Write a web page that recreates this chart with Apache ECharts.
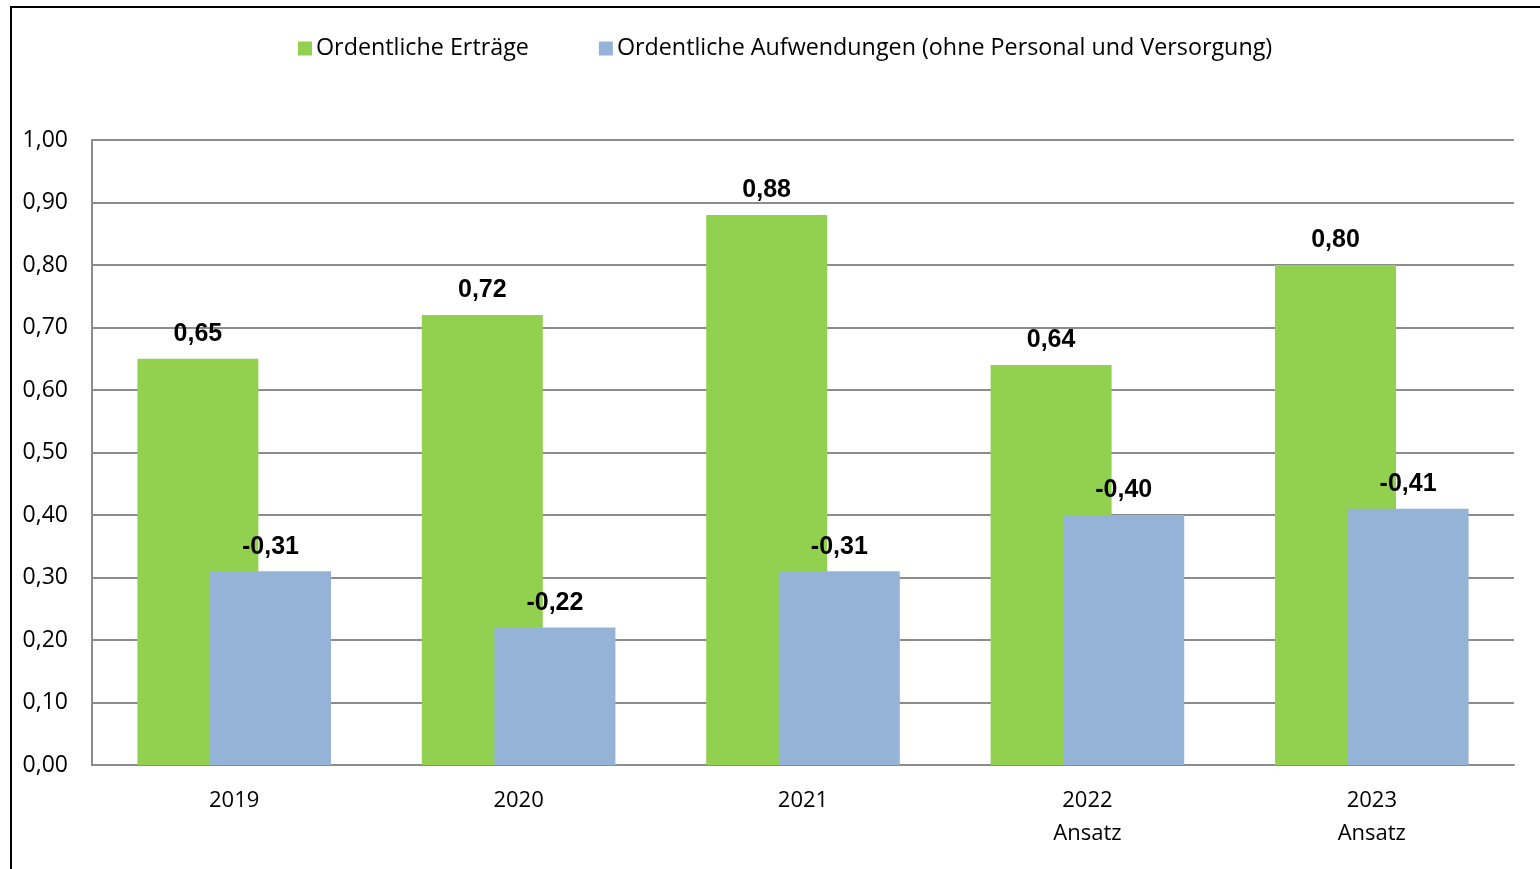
<!DOCTYPE html>
<html>
<head>
<meta charset="utf-8">
<script src="https://cdn.jsdelivr.net/npm/echarts@6/dist/echarts.min.js"></script>
<style>
    html, body { margin: 0; padding: 0; background: #fff; }
    #chart { width: 1540px; height: 869px; }
</style>
</head>
<body>
<div id="chart"></div>
<script>
const categories = ["2019", "2020", "2021", "2022\nAnsatz", "2023\nAnsatz"];
const ertraege = [0.65, 0.72, 0.88, 0.64, 0.80];
// Aufwendungen sind negativ, werden aber als Betrag gezeichnet
const aufwendungen = [-0.31, -0.22, -0.31, -0.40, -0.41];
const yTicks = { min: 0, max: 1, interval: 0.1 };

const fmt = v => v.toFixed(2).replace(".", ",");
const txtFont = "'Open Sans', 'Noto Sans', sans-serif";

const chart = echarts.init(document.getElementById("chart"));

const labelStyle = {
    show: true,
    position: "top",
    distance: 12,
    color: "#000",
    fontFamily: "'Liberation Sans', Arial, sans-serif",
    fontWeight: "bold",
    fontSize: 25
};

chart.setOption({
    animation: false,
    backgroundColor: "#fff",
    graphic: [
        {
            // äußerer Rahmen
            type: "rect",
            shape: { x: 11, y: 7, width: 1560, height: 900 },
            style: { fill: "none", stroke: "#000", lineWidth: 2 },
            silent: true
        }
    ],
    legend: {
        top: 32,
        left: 293,
        itemWidth: 14,
        itemHeight: 14,
        itemGap: 70,
        icon: "rect",
        textStyle: { fontFamily: txtFont, fontSize: 23.3, color: "#000", padding: [0, 0, 0, -1] },
        data: ["Ordentliche Erträge", "Ordentliche Aufwendungen (ohne Personal und Versorgung)"]
    },
    grid: {
        left: 92,
        right: 26,
        top: 140,
        bottom: 104
    },
    xAxis: {
        type: "category",
        data: categories,
        axisLine: { lineStyle: { color: "#8c8c8c", width: 2 } },
        axisTick: { show: false },
        axisLabel: {
            color: "#000",
            fontFamily: txtFont,
            fontSize: 22,
            lineHeight: 33,
            margin: 19
        }
    },
    yAxis: {
        type: "value",
        min: yTicks.min,
        max: yTicks.max,
        interval: yTicks.interval,
        axisLine: { show: true, lineStyle: { color: "#8c8c8c", width: 2 } },
        axisTick: { show: false },
        splitLine: { lineStyle: { color: "#8c8c8c", width: 2 } },
        axisLabel: {
            color: "#000",
            fontFamily: txtFont,
            fontSize: 23,
            margin: 24,
            formatter: v => fmt(v)
        }
    },
    series: [
        {
            name: "Ordentliche Erträge",
            type: "bar",
            data: ertraege,
            barWidth: 121,
            barGap: "-40%",
            itemStyle: { color: "#92D050" },
            label: { ...labelStyle, formatter: p => fmt(p.value) }
        },
        {
            name: "Ordentliche Aufwendungen (ohne Personal und Versorgung)",
            type: "bar",
            data: aufwendungen.map(v => Math.abs(v)),
            barWidth: 121,
            barGap: "-40%",
            itemStyle: { color: "#95B3D7" },
            label: { ...labelStyle, formatter: p => fmt(aufwendungen[p.dataIndex]) }
        }
    ]
});

window.addEventListener("resize", () => chart.resize());
</script>
</body>
</html>
